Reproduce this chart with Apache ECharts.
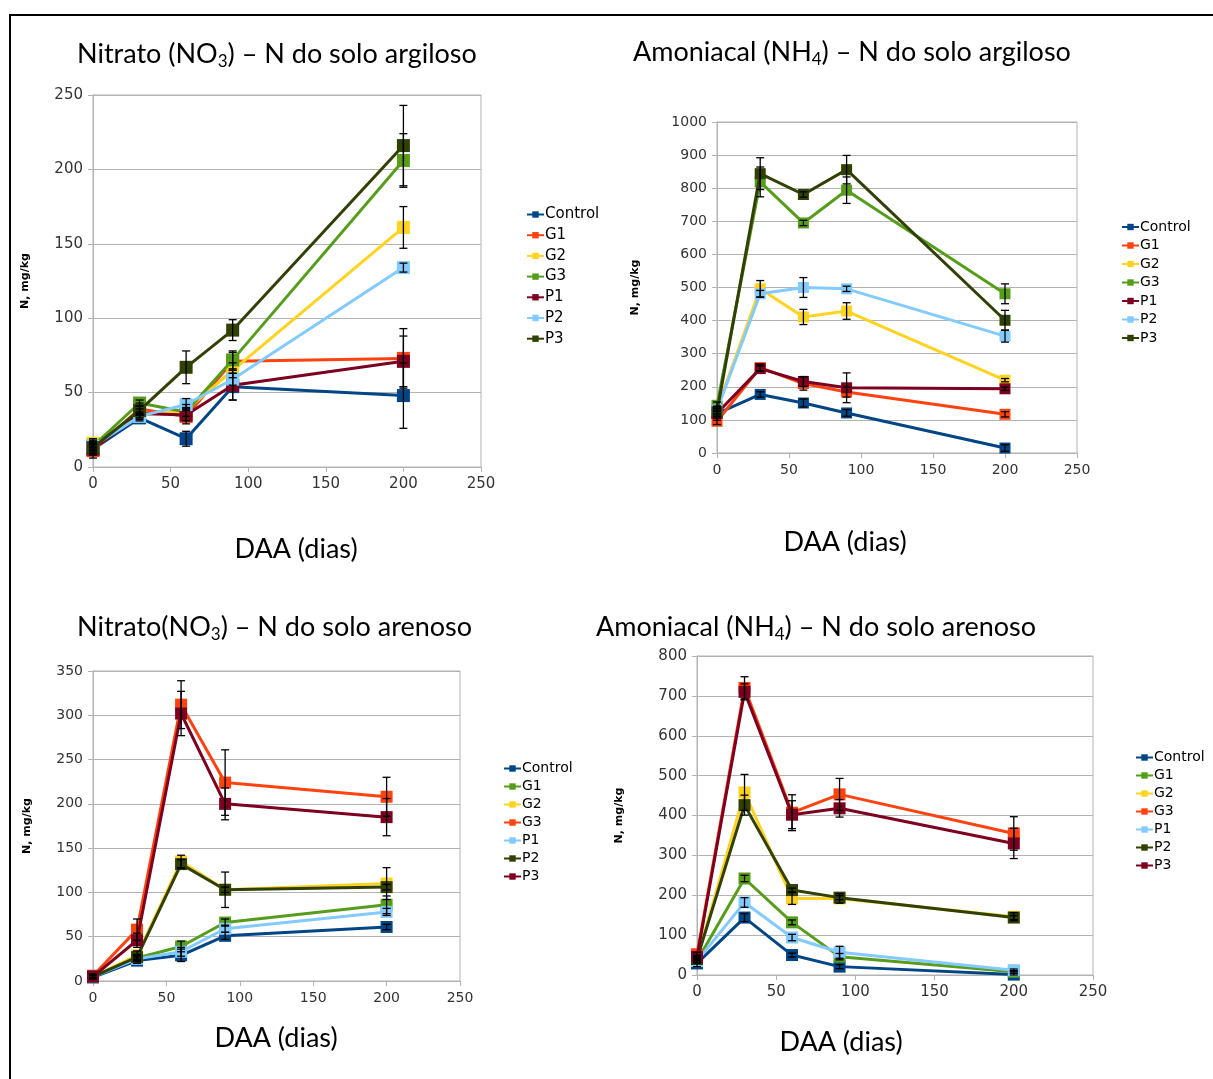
<!DOCTYPE html>
<html>
<head>
<meta charset="utf-8">
<script src="https://cdn.jsdelivr.net/npm/echarts@6/dist/echarts.min.js"></script>
<style>
html,body{margin:0;padding:0;background:#fff;}
#c{width:1213px;height:1079px;}
</style>
</head>
<body>
<div id="c"></div>
<script>
// ---------- DATA ----------
const days = [0, 30, 60, 90, 200];
const xTicks = [0, 50, 100, 150, 200, 250];
const names = ['Control', 'G1', 'G2', 'G3', 'P1', 'P2', 'P3'];

// Panel 1: Nitrato (NO3) – N do solo argiloso
const no3Arg = [
  [12, 33, 19, 54, 48],
  [11, 39, 34, 71, 73],
  [16, 35, 38, 65, 161],
  [14, 43, 37, 72, 206],
  [12, 36, 35, 55, 71],
  [14, 34, 42, 59, 134],
  [13, 38, 67, 92, 216]
];
const no3ArgErr = [
  [6, 2, 5, 9, 22],
  [3, 4, 5, 6, 20],
  [3, 2, 4, 5, 14],
  [2, 2, 3, 6, 18],
  [3, 3, 4, 10, 17],
  [3, 2, 4, 4, 3],
  [3, 3, 11, 7, 27]
];

// Panel 2: Amoniacal (NH4) – N do solo argiloso
const nh4Arg = [
  [119, 177, 151, 121, 15],
  [96, 258, 210, 184, 117],
  [134, 496, 411, 429, 220],
  [144, 819, 695, 794, 481],
  [120, 255, 216, 197, 194],
  [130, 481, 500, 496, 353],
  [125, 844, 781, 856, 401]
];
const nh4ArgErr = [
  [20, 8, 12, 10, 10],
  [10, 10, 20, 15, 8],
  [8, 25, 23, 25, 5],
  [10, 45, 8, 40, 30],
  [10, 8, 15, 45, 5],
  [10, 10, 30, 8, 18],
  [10, 48, 8, 43, 30]
];

// Panel 3: Nitrato (NO3) – N do solo arenoso
const no3Are = [
  [4, 23, 29, 51, 61],
  [5, 26, 39, 66, 86],
  [5, 29, 135, 103, 110],
  [6, 58, 312, 224, 208],
  [5, 25, 33, 59, 78],
  [5, 27, 132, 103, 106],
  [5, 46, 302, 200, 185]
];
const no3AreErr = [
  [2, 3, 7, 4, 3],
  [2, 3, 6, 4, 10],
  [2, 5, 7, 20, 18],
  [2, 12, 27, 37, 22],
  [2, 3, 5, 4, 4],
  [2, 3, 5, 3, 3],
  [2, 8, 25, 18, 21]
];

// Panel 4: Amoniacal (NH4) – N do solo arenoso
const nh4Are = [
  [29, 144, 50, 21, 1],
  [35, 242, 132, 46, 8],
  [40, 458, 192, 192, 146],
  [52, 720, 407, 453, 355],
  [35, 182, 94, 57, 12],
  [40, 426, 213, 194, 144],
  [45, 710, 402, 418, 330]
];
const nh4AreErr = [
  [8, 10, 5, 5, 3],
  [5, 8, 6, 8, 3],
  [5, 45, 15, 12, 10],
  [5, 28, 45, 40, 42],
  [5, 12, 8, 15, 3],
  [5, 25, 5, 5, 5],
  [5, 20, 35, 22, 38]
];

const colorsArg = ['#004586', '#ff420e', '#ffd320', '#579d1c', '#7e0021', '#83caff', '#314004'];
const colorsAre = ['#004586', '#579d1c', '#ffd320', '#ff420e', '#83caff', '#314004', '#7e0021'];

// ---------- LAYOUT ----------
const panels = [
  {vals: no3Arg, errs: no3ArgErr, colors: colorsArg, max: 250, interval: 50,
   grid: {left: 93, right: 732, top: 95, bottom: 612}, sym: 13, lab: 15, nameGap: 62,
   legend: {left: 526, top: 207, gap: 5.7, font: 15}},
  {vals: nh4Arg, errs: nh4ArgErr, colors: colorsArg, max: 1000, interval: 100,
   grid: {left: 717, right: 136, top: 122, bottom: 626}, sym: 11, lab: 14, nameGap: 76,
   legend: {left: 1121, top: 220, gap: 4.5, font: 14}},
  {vals: no3Are, errs: no3AreErr, colors: colorsAre, max: 350, interval: 50,
   grid: {left: 93, right: 753, top: 671, bottom: 98}, sym: 12, lab: 14, nameGap: 60,
   legend: {left: 503, top: 761.5, gap: 4, font: 14}},
  {vals: nh4Are, errs: nh4AreErr, colors: colorsAre, max: 800, interval: 100,
   grid: {left: 697, right: 120, top: 656, bottom: 104}, sym: 12, lab: 15, nameGap: 72,
   legend: {left: 1135, top: 750.5, gap: 4, font: 14}}
];

const titleFont = 'Lato';
const titleSize = 27;
function titleRich(pre, sub, post) {
  return '{a|' + pre + '}{s|' + sub + '}{a|' + post + '}';
}
const titles = [
  {text: titleRich('Nitrato (NO', '3', ') – N do solo argiloso'), left: 77, top: 38},
  {text: titleRich('Amoniacal (NH', '4', ') – N do solo argiloso'), left: 633, top: 36},
  {text: titleRich('Nitrato(NO', '3', ') – N do solo arenoso'), left: 77, top: 611},
  {text: titleRich('Amoniacal (NH', '4', ') – N do solo arenoso'), left: 596, top: 611}
];
const daaPos = [[296, 549], [845, 542], [276, 1038], [841, 1042]];

const option = {
  animation: false,
  backgroundColor: '#fff',
  title: titles.map(t => ({
    text: t.text, left: t.left, top: t.top, padding: 0,
    textStyle: {
      fontWeight: 'normal',
      rich: {
        a: {fontFamily: titleFont, fontSize: titleSize, fontWeight: 'normal', color: '#000', lineHeight: 32},
        s: {fontFamily: titleFont, fontSize: 17, fontWeight: 'normal', color: '#000', lineHeight: 14, verticalAlign: 'bottom'}
      }
    }
  })),
  grid: [], xAxis: [], yAxis: [], legend: [], series: [],
  graphic: [
    {type: 'rect', shape: {x: 10, y: 15, width: 1220, height: 1100},
     style: {fill: 'none', stroke: '#000', lineWidth: 2}, silent: true}
  ].concat(daaPos.map(p => ({
    type: 'text', x: p[0], y: p[1],
    style: {text: 'DAA (dias)', font: titleSize + 'px ' + titleFont, fill: '#000', textAlign: 'center', textVerticalAlign: 'middle'}
  })))
};

panels.forEach((p, i) => {
  option.grid.push(Object.assign({show: true, borderColor: '#b3b3b3', borderWidth: 1, containLabel: false}, p.grid));
  option.xAxis.push({
    type: 'value', gridIndex: i, min: 0, max: 250, interval: 50,
    axisLine: {show: true, onZero: false, lineStyle: {color: '#b3b3b3'}},
    axisTick: {show: true, length: 5, lineStyle: {color: '#b3b3b3'}},
    splitLine: {show: false},
    axisLabel: {color: '#333', fontFamily: 'DejaVu Sans', fontSize: p.lab, margin: 10}
  });
  option.yAxis.push({
    type: 'value', gridIndex: i, min: 0, max: p.max, interval: p.interval,
    name: 'N, mg/kg', nameLocation: 'middle', nameRotate: 90, nameGap: p.nameGap,
    nameTextStyle: {fontFamily: 'DejaVu Sans', fontWeight: 'bold', fontSize: 11, color: '#000'},
    axisLine: {show: true, lineStyle: {color: '#b3b3b3'}},
    axisTick: {show: true, length: 5, lineStyle: {color: '#b3b3b3'}},
    splitLine: {show: true, lineStyle: {color: '#b3b3b3', width: 1}},
    axisLabel: {color: '#333', fontFamily: 'DejaVu Sans', fontSize: p.lab, margin: 10,
      formatter: v => String(v)}
  });
  const legendNames = names.map(n => 'p' + i + '_' + n);
  option.legend.push({
    data: legendNames, orient: 'vertical', left: p.legend.left, top: p.legend.top,
    itemWidth: 17, itemHeight: 8, itemGap: p.legend.gap, padding: 0,
    formatter: n => n.split('_')[1],
    textStyle: {fontFamily: 'DejaVu Sans', fontSize: p.legend.font, color: '#000', padding: [0, 0, 0, -4]},
    selectedMode: false
  });
  p.vals.forEach((vals, k) => {
    option.series.push({
      type: 'line', name: legendNames[k], xAxisIndex: i, yAxisIndex: i,
      data: days.map((d, j) => [d, vals[j]]),
      color: p.colors[k],
      symbol: 'rect', symbolSize: p.sym,
      lineStyle: {width: 3, color: p.colors[k]},
      itemStyle: {color: p.colors[k]},
      z: 2 + k * 0.01
    });
  });
  // error bars
  const errData = [];
  p.vals.forEach((vals, k) => {
    vals.forEach((v, j) => {
      const e = p.errs[k][j];
      errData.push([days[j], Math.max(0, v - e), v + e]);
    });
  });
  option.series.push({
    type: 'custom', xAxisIndex: i, yAxisIndex: i, z: 5, clip: false,
    data: errData, encode: {x: 0, y: [1, 2]},
    renderItem: function (params, api) {
      const x = api.value(0);
      const lo = api.coord([x, api.value(1)]);
      const hi = api.coord([x, api.value(2)]);
      const w = 4;
      const st = {stroke: '#000', lineWidth: 1.3, fill: 'none'};
      return {type: 'group', children: [
        {type: 'line', shape: {x1: lo[0], y1: lo[1], x2: hi[0], y2: hi[1]}, style: st},
        {type: 'line', shape: {x1: lo[0] - w, y1: lo[1], x2: lo[0] + w, y2: lo[1]}, style: st},
        {type: 'line', shape: {x1: hi[0] - w, y1: hi[1], x2: hi[0] + w, y2: hi[1]}, style: st}
      ]};
    }
  });
});

const chart = echarts.init(document.getElementById('c'), null, {renderer: 'canvas'});
chart.setOption(option);
</script>
</body>
</html>
